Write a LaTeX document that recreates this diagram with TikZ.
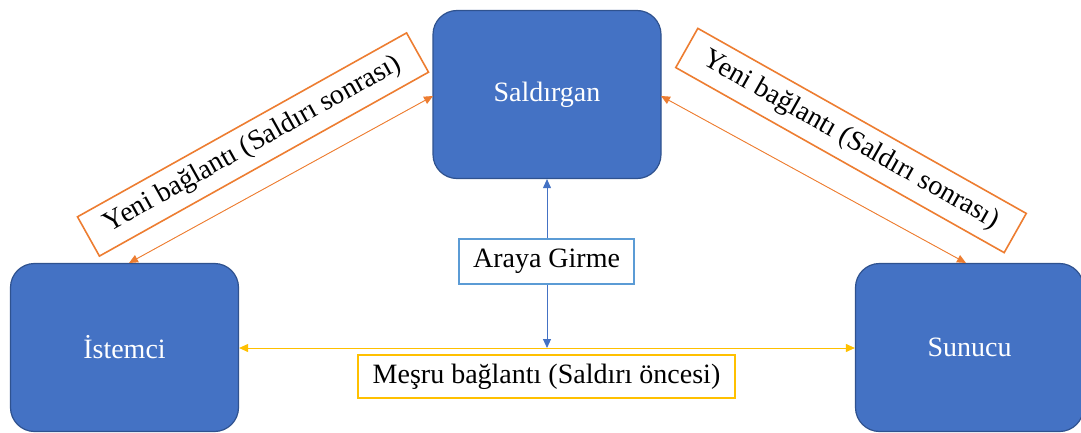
\documentclass[tikz,border=0pt]{standalone}
\usepackage{fontspec}
\setmainfont{Liberation Serif}
\usetikzlibrary{arrows.meta}
\definecolor{boxblue}{HTML}{4472C4}
\definecolor{boxedge}{HTML}{2F528F}
\definecolor{orangeC}{HTML}{ED7D31}
\definecolor{yellowC}{HTML}{FFC000}
\definecolor{lightblueC}{HTML}{5B9BD5}
\tikzset{
  party/.style={draw=boxedge, line width=1.2pt, fill=boxblue, rounded corners=24pt,
    minimum width=228pt, minimum height=168pt, text=white, inner sep=0pt,
    font=\fontsize{28}{32}\selectfont},
  tag/.style={draw, fill=white, line width=1.6pt, minimum height=45pt, inner sep=0pt,
    font=\fontsize{28}{32}\selectfont},
  link/.style={line width=0.9pt, {Triangle[length=9pt,width=8pt]}-{Triangle[length=9pt,width=8pt]}},
}
\begin{document}
\begin{tikzpicture}[x=1pt,y=-1pt]
\useasboundingbox (0,0) rectangle (1081,433);
\node[party] (sal) at (547,94.5) {Saldırgan};
\node[party] (ist) at (124.5,347.5) {İstemci};
\node[party] (sun) at (969.5,347.5) {Sunucu};
\coordinate (mid) at (547,348);
\draw[link, draw=orangeC, fill=orangeC] (129,263) -- (433,96);
\draw[link, draw=orangeC, fill=orangeC] (661,96) -- (966,263);
\draw[link, draw=yellowC, fill=yellowC] (ist.east |- mid) -- (sun.west |- mid);
\draw[link, draw=boxblue, fill=boxblue] (sal.south) -- (mid);
\node[tag, draw=orangeC, minimum width=377pt, rotate=29.2] (l1) at (253,144.5) {Yeni bağlantı (Saldırı sonrası)};
\node[tag, draw=orangeC, minimum width=377pt, rotate=-29.4] (l2) at (851,140.5) {Yeni bağlantı (Saldırı sonrası)};
\node[tag, draw=lightblueC, line width=1.2pt, minimum width=175pt] (ag) at (546.5,261.5) {Araya Girme};
\node[tag, draw=yellowC, minimum width=377pt, minimum height=43pt] (me) at (546.5,376.5) {Meşru bağlantı (Saldırı öncesi)};
\end{tikzpicture}
\end{document}
